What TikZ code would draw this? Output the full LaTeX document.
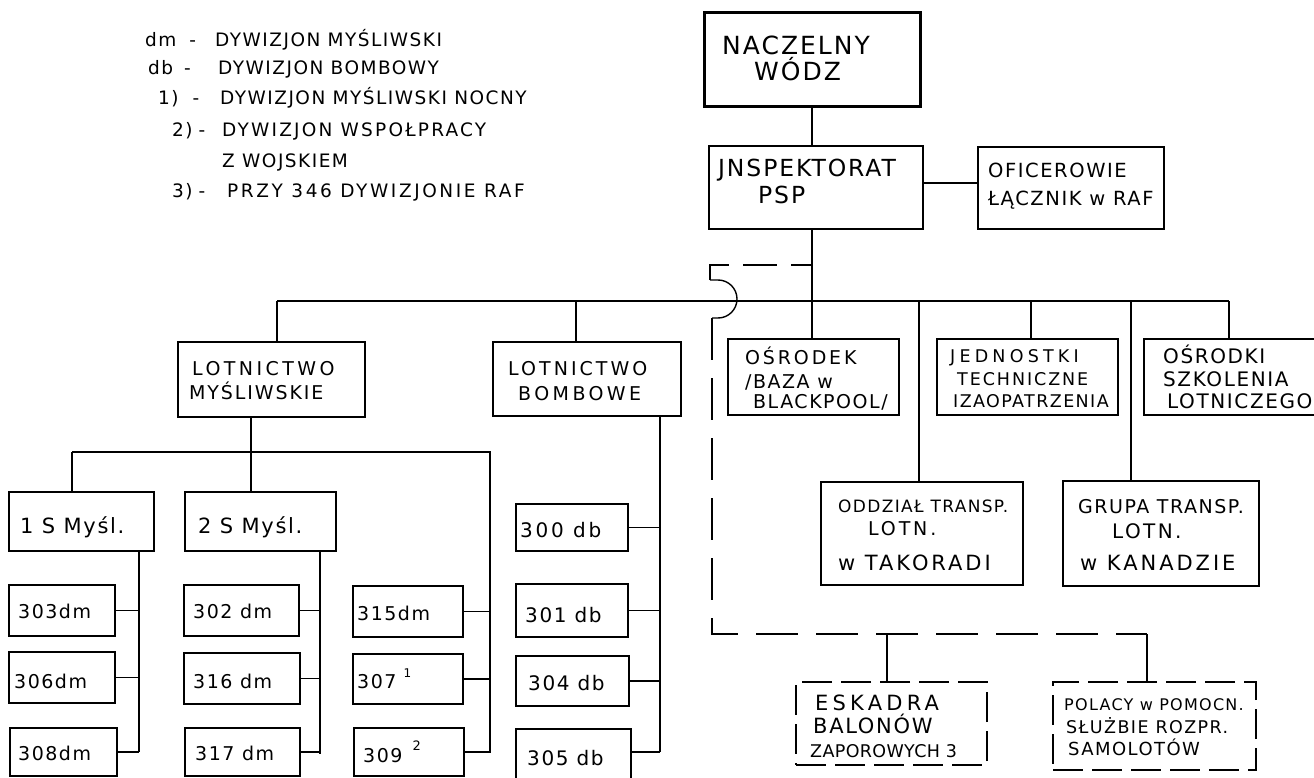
\documentclass[tikz,border=0pt]{standalone}
\usepackage{fontspec}
\setmainfont{DejaVu Sans}
\newfontfamily\hand[LetterSpace=8]{DejaVu Sans}
\newcommand\ls[1]{\addfontfeature{LetterSpace=#1}}
\tikzset{
  ln/.style={line width=1.4pt, black},
  boxst/.style={draw, line width=1.4pt, inner sep=0pt, rectangle},
  thickbox/.style={line width=3pt},
  dbox/.style={dash pattern=on 30pt off 9pt},
  dline/.style={ln, dash pattern=on 42pt off 18pt},
  txt/.style={inner sep=0pt, anchor=base west}
}
\newcommand\bx[6][]{\node[boxst,#1,minimum width={(#5)-(#3)},minimum height={(#6)-(#4)}] (#2) at ({((#3)+(#5))/2},{((#4)+(#6))/2}) {};}
\newcommand\tx[5]{\node[txt,font={\hand\fontsize{#4}{#4}\selectfont}] (#1) at (#2,#3) {#5};}
\begin{document}
\begin{tikzpicture}[x=1pt,y=-1pt]
\useasboundingbox (0,0) rectangle (1314,778);
\fill[white] (0,0) rectangle (1314,778);
\clip (0,0) rectangle (1314,778);

% ---------- legend ----------
\tx{l1}{145}{47}{18.5}{\makebox[70pt][l]{dm\hspace{13pt}-}DYWIZJON MYŚLIWSKI}
\tx{l2}{148}{75}{18.5}{\makebox[70pt][l]{db\hspace{11pt}-}DYWIZJON BOMBOWY}
\tx{l3}{158}{105}{18.5}{\makebox[62pt][l]{1)\hspace{14pt}-}DYWIZJON MYŚLIWSKI NOCNY}
\tx{l4}{172}{137}{18.5}{\makebox[50pt][l]{2)\hspace{6pt}-}\ls{12}DYWIZJON WSPOŁPRACY}
\tx{l5}{222}{168}{18.5}{Z WOJSKIEM}
\tx{l6}{172}{197}{18.5}{\makebox[55pt][l]{3)\hspace{6pt}-}\ls{14}PRZY 346 DYWIZJONIE RAF}

% ---------- top boxes ----------
\bx[thickbox]{nw}{704}{13}{920}{107}
\tx{nwa}{722}{55}{25}{NACZELNY}
\tx{nwb}{754}{81}{25}{WÓDZ}
\bx{insp}{709}{146}{923}{229}
\tx{inspa}{718}{177}{23.5}{JNSPEKTORAT}
\tx{inspb}{758}{204}{23.5}{PSP}
\bx{ofic}{978}{147}{1164}{229}
\tx{ofica}{988}{178}{19.5}{OFICEROWIE}
\tx{oficb}{988}{205}{19.5}{ŁĄCZNIK w RAF}

% ---------- second level ----------
\bx{lm}{178}{342}{365}{417}
\tx{lma}{192}{375}{19}{\ls{18}LOTNICTWO}
\tx{lmb}{189}{399}{19}{\ls{10}MYŚLIWSKIE}
\bx{lb}{493}{342}{681}{416}
\tx{lba}{508}{375}{19}{\ls{16}LOTNICTWO}
\tx{lbb}{518}{400}{19}{\ls{18}BOMBOWE}
\bx{osr}{728}{339}{899}{415}
\tx{osra}{745}{364}{19}{\ls{15}OŚRODEK}
\tx{osrb}{745}{388}{19}{/BAZA w}
\tx{osrc}{753}{408}{19}{BLACKPOOL/}
\bx{jed}{937}{339}{1118}{415}
\tx{jeda}{950}{362}{17.5}{\ls{24}JEDNOSTKI}
\tx{jedb}{957}{385}{17.5}{\ls{11}TECHNICZNE}
\tx{jedc}{953}{407}{17.5}{IZAOPATRZENIA}
\bx{osk}{1144}{339}{1330}{415}
\tx{oska}{1163}{363}{20}{OŚRODKI}
\tx{oskb}{1163}{386}{20}{SZKOLENIA}
\tx{oskc}{1167}{408}{20}{LOTNICZEGO}
\bx{odd}{821}{482}{1023}{585}
\tx{odda}{838}{512}{17}{ODDZIAŁ TRANSP.}
\tx{oddb}{868}{535}{19}{\ls{15}LOTN.}
\tx{oddc}{838}{570}{21}{\ls{14}w TAKORADI}
\bx{gru}{1063}{481}{1259}{586}
\tx{grua}{1078}{513}{19}{GRUPA TRANSP.}
\tx{grub}{1112}{538}{20}{\ls{12}LOTN.}
\tx{gruc}{1080}{570}{21}{\ls{14}w KANADZIE}
\bx[dbox]{esk}{796}{682}{987}{765}
\tx{eska}{815}{710}{21}{\ls{20}ESKADRA}
\tx{eskb}{813}{733}{21}{BALONÓW}
\tx{eskc}{810}{757}{17.5}{\ls{2}ZAPOROWYCH 3}
\bx[dbox]{pol}{1053}{682}{1256}{770}
\tx{pola}{1064}{710}{16}{POLACY w POMOCN.}
\tx{polb}{1066}{733}{17.5}{SŁUŻBIE ROZPR.}
\tx{polc}{1068}{755}{18}{SAMOLOTÓW}

% ---------- fighter / bomber units ----------
\bx{s1}{9}{492}{154}{551}
\tx{s1t}{20}{533}{21}{1 S Myśl.}
\bx{s2}{185}{492}{336}{551}
\tx{s2t}{198}{533}{21}{2 S Myśl.}
\bx{b303}{9}{585}{115}{636}
\tx{t303}{18}{618}{19}{303dm}
\bx{b306}{9}{652}{115}{703}
\tx{t306}{14}{688}{19}{306dm}
\bx{b308}{10}{728}{117}{776}
\tx{t308}{18}{760}{19}{308dm}
\bx{b302}{184}{585}{299}{636}
\tx{t302}{193}{618}{19}{302 dm}
\bx{b316}{184}{653}{300}{704}
\tx{t316}{193}{688}{19}{316 dm}
\bx{b317}{185}{728}{300}{776}
\tx{t317}{195}{760}{19}{317 dm}
\bx{b315}{353}{586}{463}{637}
\tx{t315}{357}{620}{19}{315dm}
\bx{b307}{353}{654}{463}{704}
\tx{t307}{357}{688}{19}{307\hspace{7pt}\raisebox{11pt}{\fontsize{12}{12}\selectfont 1}}
\bx{b309}{354}{728}{464}{776}
\tx{t309}{363}{762}{19}{309\hspace{10pt}\raisebox{12pt}{\fontsize{13}{13}\selectfont 2}}
\bx{b300}{516}{504}{628}{551}
\tx{t300}{520}{537}{20}{\ls{14}300 db}
\bx{b301}{516}{584}{628}{637}
\tx{t301}{525}{622}{20}{301 db}
\bx{b304}{516}{656}{629}{706}
\tx{t304}{528}{690}{20}{304 db}
\bx{b305}{516}{729}{631}{781}
\tx{t305}{527}{765}{20}{305 db}

% ---------- connectors ----------
\coordinate (b0) at (812,301);
\coordinate (bL) at (277,301);
\coordinate (bB) at (576,301);
\coordinate (bO) at (919,301);
\coordinate (bJ) at (1031,301);
\coordinate (bG) at (1131,301);
\coordinate (bR) at (1229,301);
\draw[ln] (nw.south) -- (nw.south |- insp.north);
\draw[ln] ([yshift=4.5pt]insp.east) -- ([yshift=4.5pt]insp.east -| ofic.west);
\draw[ln] (b0 |- insp.south) -- (b0 |- osr.north);
\draw[ln] (bL) -- (bR);
\draw[ln] (bL) -- (bL |- lm.north);
\draw[ln] (bB) -- (bB |- lb.north);
\draw[ln] (bO) -- (bO |- odd.north);
\draw[ln] (bJ) -- (bJ |- jed.north);
\draw[ln] (bG) -- (bG |- gru.north);
\draw[ln] (bR) -- (bR |- osk.north);

% fighter tree
\coordinate (m0) at (251,452);
\coordinate (mL) at (72,452);
\coordinate (mR) at (490,452);
\coordinate (mB) at (490,753);
\coordinate (k1) at (139,752);
\coordinate (k2) at (320,754);
\draw[ln] (m0 |- lm.south) -- (m0);
\draw[ln] (mL) -- (mR) -- (mB);
\draw[ln] (mL) -- (mL |- s1.north);
\draw[ln] (m0) -- (m0 |- s2.north);
\draw[ln] (k1 |- s1.south) -- (k1);
\draw[ln] (k2 |- s2.south) -- (k2);
\foreach \b in {b303,b306,b308} \draw[ln] (\b.east) -- (\b.east -| k1);
\foreach \b in {b302,b316,b317} \draw[ln] (\b.east) -- (\b.east -| k2);
\foreach \b in {b315,b307,b309} \draw[ln] (\b.east) -- (\b.east -| mB);

% bomber tree
\coordinate (k4) at (660,752);
\draw[ln] (k4 |- lb.south) -- (k4);
\foreach \b in {b300,b301,b304} \draw[ln] (\b.east) -- (\b.east -| k4);
\draw[ln] (b305.east |- k4) -- (k4);

% dashed liaison line with hop over the bus
\coordinate (d1) at (812,265);
\coordinate (d2) at (710,265);
\coordinate (d3) at (710,280);
\coordinate (d4) at (712,318);
\coordinate (d5) at (712,634);
\coordinate (d6) at (1147,634);
\coordinate (d7) at (887,634);
\draw[ln, dash pattern=on 34pt off 14pt] (d3) -- (d2) -- (d1);
\draw[ln] (d3) -- (718,280) arc[start angle=-90, end angle=90, radius=19] -- (d4);
\draw[dline] (d4) -- (d5) -- (d6);
\draw[ln] (d6) -- (d6 |- pol.north);
\draw[ln] (d7) -- (d7 |- esk.north);
\end{tikzpicture}
\end{document}
